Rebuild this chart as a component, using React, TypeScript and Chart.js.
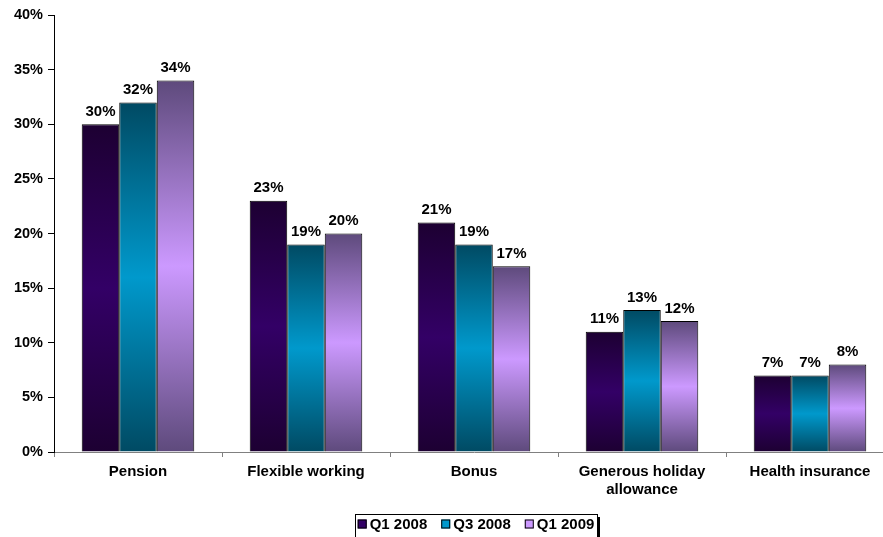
import React, { useEffect, useRef } from "react";
import { Chart, registerables } from "chart.js";

Chart.register(...registerables);

const categories: (string | string[])[] = [
  "Pension",
  "Flexible working",
  "Bonus",
  ["Generous holiday", "allowance"],
  "Health insurance",
];
const seriesNames = ["Q1 2008", "Q3 2008", "Q1 2009"];
const q1_2008 = [30, 23, 21, 11, 7];
const q3_2008 = [32, 19, 19, 13, 7];
const q1_2009 = [34, 20, 17, 12, 8];
const darkColors = ["#1d0032", "#004a63", "#5e4a7c"];
const lightColors = ["#330066", "#0099cc", "#cc99ff"];
const yTicks = [0, 5, 10, 15, 20, 25, 30, 35, 40];

const FONT = "'Liberation Sans', Arial, sans-serif";

const makeBg = (dark: string, light: string) => (c: any) => {
  const chart = c.chart;
  if (!chart.chartArea || c.type !== "data" || !c.parsed) return light;
  const ys = chart.scales.y;
  const top = ys.getPixelForValue(c.parsed.y);
  const bottom = ys.getPixelForValue(0);
  if (!isFinite(top) || !isFinite(bottom) || bottom - top < 1) return light;
  const g = chart.ctx.createLinearGradient(0, top, 0, bottom);
  g.addColorStop(0, dark);
  g.addColorStop(0.5, light);
  g.addColorStop(1, dark);
  return g;
};

const dataLabels = {
  id: "dataLabels",
  afterDatasetsDraw(chart: any) {
    const ctx = chart.ctx;
    ctx.save();
    ctx.font = `bold 15px ${FONT}`;
    ctx.fillStyle = "#000";
    ctx.textAlign = "center";
    ctx.textBaseline = "bottom";
    chart.data.datasets.forEach((ds: any, i: number) => {
      const meta = chart.getDatasetMeta(i);
      meta.data.forEach((bar: any, j: number) => {
        ctx.fillText(`${ds.data[j]}%`, bar.x, bar.y - 5);
      });
    });
    ctx.restore();
  },
};

const boxLegend = {
  id: "boxLegend",
  afterDraw(chart: any) {
    const ctx = chart.ctx;
    const boxL = 355;
    const boxR = 597;
    const boxT = 514;
    const boxB = 545;
    ctx.save();
    ctx.fillStyle = "#fff";
    ctx.fillRect(boxL, boxT, boxR - boxL, boxB - boxT);
    ctx.strokeStyle = "#000";
    ctx.lineWidth = 1;
    ctx.strokeRect(boxL + 0.5, boxT + 0.5, boxR - boxL, boxB - boxT);
    ctx.fillStyle = "#000";
    ctx.fillRect(boxR, boxT + 3, 3, boxB - boxT);
    ctx.font = `bold 15px ${FONT}`;
    ctx.textBaseline = "middle";
    ctx.textAlign = "left";
    const sq = 9;
    const gap = 3;
    const between = 14;
    const widths = seriesNames.map((n) => ctx.measureText(n).width);
    const total =
      widths.reduce((a: number, b: number) => a + b, 0) +
      seriesNames.length * (sq + gap) +
      (seriesNames.length - 1) * between;
    let x = (boxL + boxR) / 2 - total / 2;
    const cy = 524;
    seriesNames.forEach((n, i) => {
      ctx.fillStyle = lightColors[i];
      ctx.fillRect(x, cy - sq / 2, sq, sq);
      ctx.strokeStyle = "#000";
      ctx.strokeRect(x + 0.5, cy - sq / 2 + 0.5, sq - 1, sq - 1);
      x += sq + gap;
      ctx.fillStyle = "#000";
      ctx.fillText(n, x, cy + 1);
      x += widths[i] + between;
    });
    ctx.restore();
  },
};

export default function App() {
  const ref = useRef<HTMLCanvasElement | null>(null);
  useEffect(() => {
    if (!ref.current) return;
    const all = [q1_2008, q3_2008, q1_2009];
    const chart = new Chart(ref.current, {
      type: "bar",
      data: {
        labels: categories,
        datasets: all.map((d, i) => ({
          label: seriesNames[i],
          data: d,
          backgroundColor: makeBg(darkColors[i], lightColors[i]),
          borderColor: "#000",
          borderWidth: 1,
          barPercentage: 1,
          categoryPercentage: 0.67,
        })),
      },
      options: {
        responsive: false,
        animation: false,
        devicePixelRatio: 1,
        layout: { padding: { top: 15, right: 58, left: 0, bottom: 0 } },
        plugins: {
          legend: { display: false },
          tooltip: { enabled: false },
        },
        scales: {
          x: {
            type: "category",
            grid: {
              display: true,
              drawOnChartArea: false,
              drawTicks: true,
              tickLength: 5,
              offset: true,
              color: "#808080",
            },
            border: { display: true, color: "#808080" },
            ticks: {
              color: "#000",
              font: { family: FONT, size: 15, weight: "bold", lineHeight: 1.2 },
              padding: 6,
              maxRotation: 0,
              autoSkip: false,
            },
            afterFit: (s: any) => {
              s.height = 85;
            },
          },
          y: {
            min: 0,
            max: 40,
            afterBuildTicks: (s: any) => {
              s.ticks = yTicks.map((v) => ({ value: v }));
            },
            ticks: {
              color: "#000",
              font: { family: FONT, size: 14.5, weight: "bold" },
              padding: 5,
              callback: (v: any) => `${v}%`,
            },
            grid: {
              display: true,
              drawOnChartArea: false,
              drawTicks: true,
              tickLength: 6,
              color: "#000",
            },
            border: { display: true, color: "#000" },
            afterFit: (s: any) => {
              s.width = 54;
            },
          },
        },
      },
      plugins: [dataLabels, boxLegend],
    });
    return () => chart.destroy();
  }, []);
  return (
    <div
      style={{
        position: "absolute",
        left: 0,
        top: 0,
        width: 883,
        height: 537,
        overflow: "hidden",
        background: "#fff",
      }}
    >
      <canvas ref={ref} width={952} height={537} style={{ display: "block" }} />
    </div>
  );
}
